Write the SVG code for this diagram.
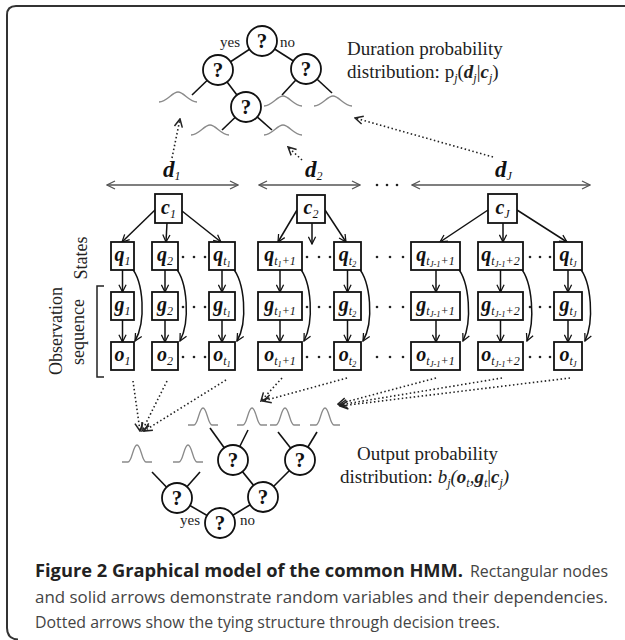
<svg xmlns="http://www.w3.org/2000/svg" width="625" height="640" viewBox="0 0 625 640">
<defs>
<style>
.box{fill:#fff;stroke:#111;stroke-width:1.8}
.circ{fill:#fff;stroke:#111;stroke-width:1.8}
.qm{font-family:'Liberation Serif',serif;font-weight:bold;font-size:21px;text-anchor:middle;fill:#111}
.lbl{font-family:'Liberation Serif',serif;font-size:20px;font-weight:bold;font-style:italic;text-anchor:middle;fill:#111}
.s{font-size:12px;font-weight:normal}
.ss{font-size:8.5px;font-weight:normal}
.edge{stroke:#111;stroke-width:1.6;fill:none}
.arr{stroke:#111;stroke-width:1.5;fill:none;marker-end:url(#ah)}
.dt{stroke:#222;stroke-width:1.6;fill:none;stroke-dasharray:1.5 2.5;marker-end:url(#ahd)}
.span{stroke:#555;stroke-width:1.3;fill:none;marker-start:url(#ahg);marker-end:url(#ahg)}
.bell{fill:none;stroke:#8a8a8a;stroke-width:1.3}
.pt{fill:#222}
.t{font-family:'Liberation Serif',serif;font-size:19px;fill:#222}
.yn{font-family:'Liberation Serif',serif;font-size:15px;fill:#222}
.dl{font-family:'Liberation Serif',serif;font-size:23px;font-weight:bold;font-style:italic;fill:#111}
.bi{font-weight:bold;font-style:italic}
.it{font-style:italic}
.sub{font-size:12px;font-style:italic;font-weight:normal}
.cap{font-family:'Open Sans',sans-serif;font-size:17px;fill:#444}
.capb{font-family:'Open Sans',sans-serif;font-size:17px;font-weight:bold;fill:#222}
</style>
<marker id="ah" viewBox="0 0 10 10" refX="9" refY="5" markerWidth="9" markerHeight="9" markerUnits="userSpaceOnUse" orient="auto"><path d="M1,1 L9,5 L1,9" fill="none" stroke="#111" stroke-width="1.4"/></marker>
<marker id="ahd" viewBox="0 0 10 10" refX="9" refY="5" markerWidth="10" markerHeight="10" markerUnits="userSpaceOnUse" orient="auto"><path d="M1,1 L9,5 L1,9" fill="none" stroke="#222" stroke-width="1.5"/></marker>
<marker id="ahg" viewBox="0 0 10 10" refX="9" refY="5" markerWidth="10" markerHeight="10" markerUnits="userSpaceOnUse" orient="auto-start-reverse"><path d="M1,1 L9,5 L1,9" fill="none" stroke="#555" stroke-width="1.3"/></marker>
<path id="bellW" d="M-19,0 C-11,0 -6,-10 0,-10 C6,-10 11,0 19,0"/>
<path id="bellN" d="M-15,0 L-9,0 C-5,0 -4,-17 0,-17 C4,-17 5,0 9,0 L15,0"/>
</defs>

<path d="M625,6 H16 Q7,6 7,15 V628 Q7,639 18,639.5" fill="none" stroke="#333" stroke-width="2"/>

<!-- top decision tree -->
<g id="top-tree">
<line class="edge" x1="262" y1="41" x2="218" y2="70"/>
<line class="edge" x1="262" y1="41" x2="306" y2="69"/>
<line class="edge" x1="218" y1="70" x2="246" y2="107"/>
<line class="edge" x1="218" y1="70" x2="192" y2="95"/>
<line class="edge" x1="306" y1="69" x2="282" y2="95"/>
<line class="edge" x1="306" y1="69" x2="332" y2="93"/>
<line class="edge" x1="246" y1="107" x2="222" y2="130"/>
<line class="edge" x1="246" y1="107" x2="272" y2="130"/>
<g class="bell">
<use href="#bellW" x="178" y="102"/>
<use href="#bellW" x="283" y="106"/>
<use href="#bellW" x="333" y="106"/>
<use href="#bellW" x="210" y="135"/>
<use href="#bellW" x="283" y="135"/>
</g>
<g id="t-root"><circle class="circ" cx="262" cy="41" r="15"/><text class="qm" x="262" y="48">?</text></g>
<g id="t-left"><circle class="circ" cx="218" cy="70" r="15"/><text class="qm" x="218" y="77">?</text></g>
<g id="t-right"><circle class="circ" cx="306" cy="69" r="15"/><text class="qm" x="306" y="76">?</text></g>
<g id="t-mid"><circle class="circ" cx="246" cy="107" r="15"/><text class="qm" x="246" y="114">?</text></g>
<text class="yn" x="220" y="47">yes</text>
<text class="yn" x="280" y="47">no</text>
</g>

<text class="t" x="347" y="55">Duration probability</text>
<text class="t" x="347" y="78">distribution: p<tspan class="sub" dy="4">j</tspan><tspan dy="-4">(</tspan><tspan class="bi">d</tspan><tspan class="sub" dy="4">j</tspan><tspan dy="-4">|</tspan><tspan class="bi">c</tspan><tspan class="sub" dy="4">j</tspan><tspan dy="-4">)</tspan></text>

<!-- duration spans -->
<g id="durations">
<text class="dl" x="163" y="177">d<tspan class="sub" dy="3">1</tspan></text>
<text class="dl" x="305" y="177">d<tspan class="sub" dy="3">2</tspan></text>
<text class="dl" x="495" y="177">d<tspan class="sub" dy="3">J</tspan></text>
<circle class="pt" cx="377" cy="185" r="1.3"/><circle class="pt" cx="387" cy="185" r="1.3"/><circle class="pt" cx="397" cy="185" r="1.3"/>
</g>

<!-- side labels -->
<g id="side-labels">
<text class="t" transform="translate(87,258) rotate(-90)" text-anchor="middle" style="font-size:18px">States</text>
<text class="t" transform="translate(62,331) rotate(-90)" text-anchor="middle" style="font-size:18px">Observation</text>
<text class="t" transform="translate(84,332) rotate(-90)" text-anchor="middle" style="font-size:18px">sequence</text>
<path d="M104,286 H97 V377 H104" fill="none" stroke="#222" stroke-width="1.5"/>
</g>

<!-- connectors -->
<g id="connectors">
<line class="span" x1="107" y1="185" x2="238" y2="185"/>
<line class="span" x1="259" y1="185" x2="360" y2="185"/>
<line class="span" x1="412" y1="185" x2="590" y2="185"/>

<line class="dt" x1="172" y1="158" x2="180" y2="119"/>
<line class="dt" x1="302" y1="160" x2="288" y2="147"/>
<line class="dt" x1="493" y1="157" x2="355" y2="118"/>

<line class="arr" x1="156" y1="209" x2="122" y2="242"/>
<line class="arr" x1="167" y1="223" x2="166" y2="242"/>
<line class="arr" x1="182" y1="211" x2="221" y2="242"/>
<line class="arr" x1="297" y1="210" x2="278" y2="242"/>
<line class="arr" x1="312" y1="223" x2="312" y2="244"/>
<line class="arr" x1="325" y1="210" x2="346" y2="242"/>
<line class="arr" x1="488" y1="210" x2="440" y2="242"/>
<line class="arr" x1="503" y1="223" x2="503" y2="242"/>
<line class="arr" x1="517" y1="210" x2="567" y2="242"/>

<line class="arr" x1="122.5" y1="270" x2="122.5" y2="292"/>
<line class="arr" x1="122.5" y1="320" x2="122.5" y2="342"/>
<line class="arr" x1="165" y1="270" x2="165" y2="292"/>
<line class="arr" x1="165" y1="320" x2="165" y2="342"/>
<line class="arr" x1="222" y1="270" x2="222" y2="292"/>
<line class="arr" x1="222" y1="320" x2="222" y2="342"/>
<line class="arr" x1="280" y1="270" x2="280" y2="292"/>
<line class="arr" x1="280" y1="320" x2="280" y2="342"/>
<line class="arr" x1="347.5" y1="270" x2="347.5" y2="292"/>
<line class="arr" x1="347.5" y1="320" x2="347.5" y2="342"/>
<line class="arr" x1="436" y1="270" x2="436" y2="292"/>
<line class="arr" x1="436" y1="320" x2="436" y2="342"/>
<line class="arr" x1="500.5" y1="270" x2="500.5" y2="292"/>
<line class="arr" x1="500.5" y1="320" x2="500.5" y2="342"/>
<line class="arr" x1="568" y1="270" x2="568" y2="292"/>
<line class="arr" x1="568" y1="320" x2="568" y2="342"/>

<path class="arr" d="M131,267 C144,282 146,322 135,341"/>
<path class="arr" d="M175,267 C188,282 190,322 180,341"/>
<path class="arr" d="M232,267 C245,282 248,322 237,341"/>
<path class="arr" d="M299,267 C312,282 314,322 304,341"/>
<path class="arr" d="M358,267 C371,282 374,322 363,341"/>
<path class="arr" d="M457,267 C470,282 472,322 463,341"/>
<path class="arr" d="M520,267 C533,282 535,322 527,341"/>
<path class="arr" d="M579,267 C592,282 594,322 585,341"/>

<line class="dt" x1="133" y1="381" x2="140" y2="431"/>
<line class="dt" x1="167" y1="381" x2="142" y2="431"/>
<line class="dt" x1="226" y1="380" x2="144" y2="431"/>
<line class="dt" x1="282" y1="378" x2="261" y2="401"/>
<line class="dt" x1="347" y1="378" x2="263" y2="401"/>
<line class="dt" x1="436" y1="378" x2="338" y2="404"/>
<line class="dt" x1="502" y1="378" x2="339" y2="405"/>
<line class="dt" x1="570" y1="378" x2="340" y2="406"/>
</g>

<!-- state-level nodes -->
<g id="c1"><rect class="box" x="155" y="194" width="27" height="29"/><text class="lbl" x="168.5" y="214">c<tspan class="s" dy="4">1</tspan></text></g>
<g id="c2"><rect class="box" x="297" y="195" width="28" height="28"/><text class="lbl" x="311" y="214">c<tspan class="s" dy="4">2</tspan></text></g>
<g id="cJ"><rect class="box" x="488" y="194" width="29" height="29"/><text class="lbl" x="502.5" y="214">c<tspan class="s" dy="4">J</tspan></text></g>

<g id="q1"><rect class="box" x="111" y="242" width="23" height="28"/><text class="lbl" x="122.5" y="261">q<tspan class="s" dy="4">1</tspan></text></g>
<g id="q2"><rect class="box" x="152" y="242" width="26" height="28"/><text class="lbl" x="165" y="261">q<tspan class="s" dy="4">2</tspan></text></g>
<g id="qt1"><rect class="box" x="209" y="242" width="26" height="28"/><text class="lbl" x="222" y="261">q<tspan class="s" dy="4">t</tspan><tspan class="ss" dy="2">1</tspan></text></g>
<g id="qt1p1"><rect class="box" x="258" y="242" width="44" height="28"/><text class="lbl" x="280" y="261">q<tspan class="s" dy="4">t</tspan><tspan class="ss" dy="2">1</tspan><tspan class="s" dy="-2">+1</tspan></text></g>
<g id="qt2"><rect class="box" x="334" y="242" width="27" height="28"/><text class="lbl" x="347.5" y="261">q<tspan class="s" dy="4">t</tspan><tspan class="ss" dy="2">2</tspan></text></g>
<g id="qtJ1p1"><rect class="box" x="411" y="242" width="49" height="28"/><text class="lbl" x="435.5" y="261">q<tspan class="s" dy="4">t</tspan><tspan class="ss" dy="2">J-1</tspan><tspan class="s" dy="-2">+1</tspan></text></g>
<g id="qtJ1p2"><rect class="box" x="478" y="242" width="45" height="28"/><text class="lbl" x="500.5" y="261">q<tspan class="s" dy="4">t</tspan><tspan class="ss" dy="2">J-1</tspan><tspan class="s" dy="-2">+2</tspan></text></g>
<g id="qtJ"><rect class="box" x="554" y="242" width="28" height="28"/><text class="lbl" x="568" y="261">q<tspan class="s" dy="4">t</tspan><tspan class="ss" dy="2">J</tspan></text></g>

<g id="g1"><rect class="box" x="111" y="292" width="23" height="28"/><text class="lbl" x="122.5" y="311">g<tspan class="s" dy="4">1</tspan></text></g>
<g id="g2"><rect class="box" x="152" y="292" width="26" height="28"/><text class="lbl" x="165" y="311">g<tspan class="s" dy="4">2</tspan></text></g>
<g id="gt1"><rect class="box" x="209" y="292" width="26" height="28"/><text class="lbl" x="222" y="311">g<tspan class="s" dy="4">t</tspan><tspan class="ss" dy="2">1</tspan></text></g>
<g id="gt1p1"><rect class="box" x="258" y="292" width="44" height="28"/><text class="lbl" x="280" y="311">g<tspan class="s" dy="4">t</tspan><tspan class="ss" dy="2">1</tspan><tspan class="s" dy="-2">+1</tspan></text></g>
<g id="gt2"><rect class="box" x="334" y="292" width="27" height="28"/><text class="lbl" x="347.5" y="311">g<tspan class="s" dy="4">t</tspan><tspan class="ss" dy="2">2</tspan></text></g>
<g id="gtJ1p1"><rect class="box" x="411" y="292" width="49" height="28"/><text class="lbl" x="435.5" y="311">g<tspan class="s" dy="4">t</tspan><tspan class="ss" dy="2">J-1</tspan><tspan class="s" dy="-2">+1</tspan></text></g>
<g id="gtJ1p2"><rect class="box" x="478" y="292" width="45" height="28"/><text class="lbl" x="500.5" y="311">g<tspan class="s" dy="4">t</tspan><tspan class="ss" dy="2">J-1</tspan><tspan class="s" dy="-2">+2</tspan></text></g>
<g id="gtJ"><rect class="box" x="554" y="292" width="28" height="28"/><text class="lbl" x="568" y="311">g<tspan class="s" dy="4">t</tspan><tspan class="ss" dy="2">J</tspan></text></g>

<g id="o1"><rect class="box" x="111" y="342" width="23" height="28"/><text class="lbl" x="122.5" y="361">o<tspan class="s" dy="4">1</tspan></text></g>
<g id="o2"><rect class="box" x="152" y="342" width="26" height="28"/><text class="lbl" x="165" y="361">o<tspan class="s" dy="4">2</tspan></text></g>
<g id="ot1"><rect class="box" x="209" y="342" width="26" height="28"/><text class="lbl" x="222" y="361">o<tspan class="s" dy="4">t</tspan><tspan class="ss" dy="2">1</tspan></text></g>
<g id="ot1p1"><rect class="box" x="258" y="342" width="44" height="28"/><text class="lbl" x="280" y="361">o<tspan class="s" dy="4">t</tspan><tspan class="ss" dy="2">1</tspan><tspan class="s" dy="-2">+1</tspan></text></g>
<g id="ot2"><rect class="box" x="334" y="342" width="27" height="28"/><text class="lbl" x="347.5" y="361">o<tspan class="s" dy="4">t</tspan><tspan class="ss" dy="2">2</tspan></text></g>
<g id="otJ1p1"><rect class="box" x="411" y="342" width="49" height="28"/><text class="lbl" x="435.5" y="361">o<tspan class="s" dy="4">t</tspan><tspan class="ss" dy="2">J-1</tspan><tspan class="s" dy="-2">+1</tspan></text></g>
<g id="otJ1p2"><rect class="box" x="478" y="342" width="45" height="28"/><text class="lbl" x="500.5" y="361">o<tspan class="s" dy="4">t</tspan><tspan class="ss" dy="2">J-1</tspan><tspan class="s" dy="-2">+2</tspan></text></g>
<g id="otJ"><rect class="box" x="554" y="342" width="28" height="28"/><text class="lbl" x="568" y="361">o<tspan class="s" dy="4">t</tspan><tspan class="ss" dy="2">J</tspan></text></g>

<!-- ellipsis dots -->
<g id="ellipses" class="pt">
<circle cx="183" cy="257" r="1.3"/><circle cx="194" cy="257" r="1.3"/><circle cx="205" cy="257" r="1.3"/>
<circle cx="183" cy="307" r="1.3"/><circle cx="194" cy="307" r="1.3"/><circle cx="205" cy="307" r="1.3"/>
<circle cx="183" cy="357" r="1.3"/><circle cx="194" cy="357" r="1.3"/><circle cx="205" cy="357" r="1.3"/>
<circle cx="307" cy="257" r="1.3"/><circle cx="319" cy="257" r="1.3"/><circle cx="330" cy="257" r="1.3"/>
<circle cx="307" cy="307" r="1.3"/><circle cx="319" cy="307" r="1.3"/><circle cx="330" cy="307" r="1.3"/>
<circle cx="307" cy="357" r="1.3"/><circle cx="319" cy="357" r="1.3"/><circle cx="330" cy="357" r="1.3"/>
<circle cx="377" cy="257" r="1.3"/><circle cx="390" cy="257" r="1.3"/><circle cx="403" cy="257" r="1.3"/>
<circle cx="377" cy="307" r="1.3"/><circle cx="390" cy="307" r="1.3"/><circle cx="403" cy="307" r="1.3"/>
<circle cx="377" cy="357" r="1.3"/><circle cx="390" cy="357" r="1.3"/><circle cx="403" cy="357" r="1.3"/>
<circle cx="530" cy="257" r="1.3"/><circle cx="540" cy="257" r="1.3"/><circle cx="550" cy="257" r="1.3"/>
<circle cx="530" cy="307" r="1.3"/><circle cx="540" cy="307" r="1.3"/><circle cx="550" cy="307" r="1.3"/>
<circle cx="530" cy="357" r="1.3"/><circle cx="540" cy="357" r="1.3"/><circle cx="550" cy="357" r="1.3"/>
</g>

<!-- bottom decision tree -->
<g id="bottom-tree">
<g class="bell">
<use href="#bellN" x="203" y="425"/>
<use href="#bellN" x="252" y="425"/>
<use href="#bellN" x="285" y="425"/>
<use href="#bellN" x="325" y="425"/>
<use href="#bellN" x="137" y="462"/>
<use href="#bellN" x="188" y="462"/>
</g>
<line class="edge" x1="220" y1="523" x2="177" y2="498"/>
<line class="edge" x1="220" y1="523" x2="263" y2="497"/>
<line class="edge" x1="177" y1="498" x2="152" y2="472"/>
<line class="edge" x1="177" y1="498" x2="200" y2="472"/>
<line class="edge" x1="263" y1="497" x2="233" y2="460"/>
<line class="edge" x1="263" y1="497" x2="300" y2="460"/>
<line class="edge" x1="233" y1="460" x2="210" y2="428"/>
<line class="edge" x1="233" y1="460" x2="248" y2="430"/>
<line class="edge" x1="300" y1="460" x2="278" y2="432"/>
<line class="edge" x1="300" y1="460" x2="317" y2="432"/>
<g id="b-n1"><circle class="circ" cx="233" cy="460" r="15"/><text class="qm" x="233" y="467">?</text></g>
<g id="b-n2"><circle class="circ" cx="300" cy="460" r="15"/><text class="qm" x="300" y="467">?</text></g>
<g id="b-n3"><circle class="circ" cx="177" cy="498" r="15"/><text class="qm" x="177" y="505">?</text></g>
<g id="b-n4"><circle class="circ" cx="263" cy="497" r="15"/><text class="qm" x="263" y="504">?</text></g>
<g id="b-root"><circle class="circ" cx="220" cy="523" r="15"/><text class="qm" x="220" y="530">?</text></g>
<text class="yn" x="180" y="525">yes</text>
<text class="yn" x="240" y="525">no</text>
</g>

<text class="t" x="357" y="460">Output probability</text>
<text class="t" x="340" y="483">distribution: <tspan class="it">b</tspan><tspan class="sub" dy="4">j</tspan><tspan class="it" dy="-4">(</tspan><tspan class="bi">o</tspan><tspan class="sub" dy="4">t</tspan><tspan class="it" dy="-4">,</tspan><tspan class="bi">g</tspan><tspan class="sub" dy="4">t</tspan><tspan dy="-4">|</tspan><tspan class="bi">c</tspan><tspan class="sub" dy="4">j</tspan><tspan class="it" dy="-4">)</tspan></text>

<!-- caption -->
<g id="caption">
<text class="capb" x="35" y="577" textLength="428" lengthAdjust="spacingAndGlyphs">Figure 2 Graphical model of the common HMM.</text>
<text class="cap" x="470" y="577" textLength="138" lengthAdjust="spacingAndGlyphs">Rectangular nodes</text>
<text class="cap" x="35" y="603" textLength="573" lengthAdjust="spacingAndGlyphs">and solid arrows demonstrate random variables and their dependencies.</text>
<text class="cap" x="35" y="628" textLength="465" lengthAdjust="spacingAndGlyphs">Dotted arrows show the tying structure through decision trees.</text>
</g>
</svg>
